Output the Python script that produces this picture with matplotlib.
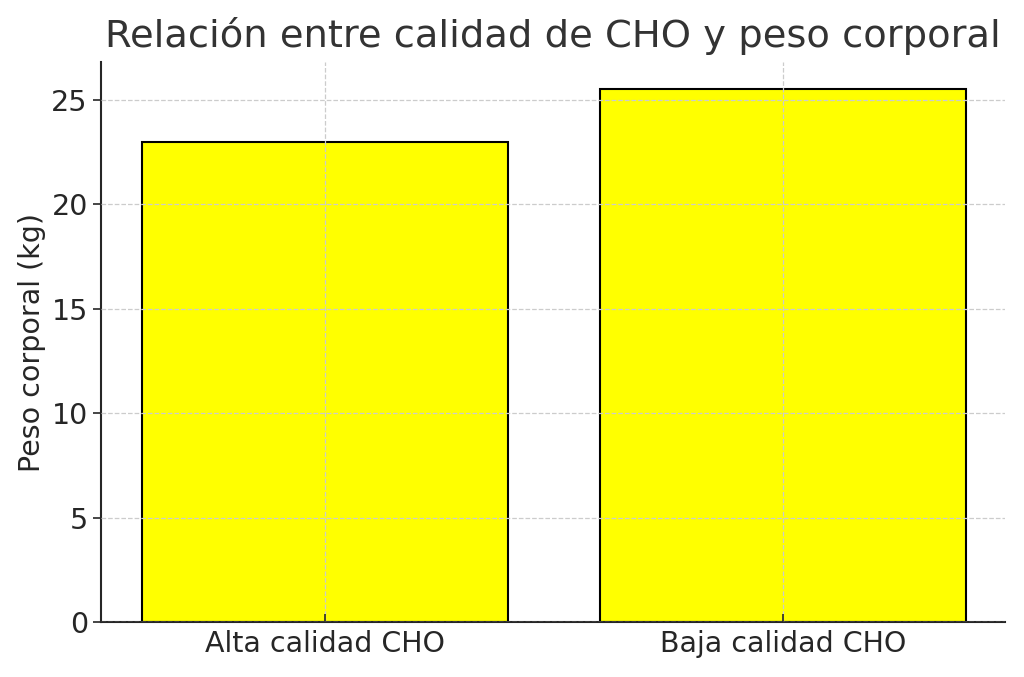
import numpy as np
import matplotlib
matplotlib.use("Agg")
from matplotlib import pyplot as plt

categories = ["Alta calidad CHO", "Baja calidad CHO"]
peso = [23.0, 25.5]

text_color = "#262626"

fig = plt.figure(figsize=(10.24, 6.77), dpi=100)
ax = fig.add_axes([0.0986, 0.081, 0.8825, 0.827])

x = np.arange(len(categories))
ax.bar(x, peso, width=0.8, color="yellow", edgecolor="black", linewidth=1.5)

ax.set_xticks(x)
ax.set_xticklabels(categories)
ax.set_xlim(-0.49, 1.485)
ax.set_ylim(0, 26.8)
ax.set_yticks([0, 5, 10, 15, 20, 25])

ax.grid(True, linestyle="--", color="#cccccc", linewidth=0.9)
ax.set_axisbelow(False)

for s in ["top", "right"]:
    ax.spines[s].set_visible(False)
for s in ["left", "bottom"]:
    ax.spines[s].set_color(text_color)
    ax.spines[s].set_linewidth(1.5)

ax.tick_params(axis="both", labelsize=20.5, colors=text_color, width=1.2, length=6)
ax.tick_params(axis="x", direction="in", pad=6)

ax.set_ylabel("Peso corporal (kg)", fontsize=20.5, color=text_color, labelpad=4)
ax.set_title("Relación entre calidad de CHO y peso corporal", fontsize=27.7, color="#333333", pad=11)

fig.savefig("out.png", dpi=100)
